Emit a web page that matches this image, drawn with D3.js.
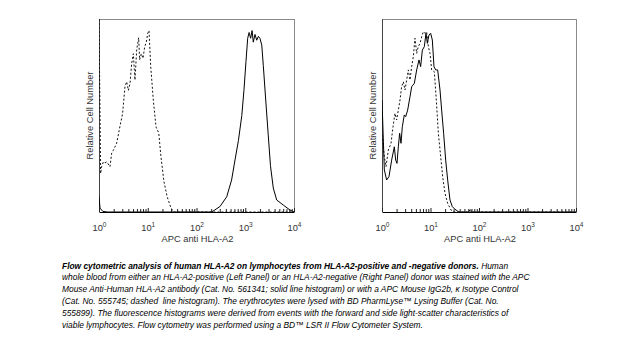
<!DOCTYPE html>
<html><head><meta charset="utf-8">
<script src="https://cdn.jsdelivr.net/npm/d3@7/dist/d3.min.js"></script>
<style>
html,body{margin:0;padding:0;background:#fff;}
svg{display:block;font-family:"Liberation Sans",Arial,sans-serif;}
</style></head>
<body><svg id="c" width="620" height="341"></svg>
<script>
// ---- data ----
const decades = [1, 10, 100, 1000, 10000];
const xTitle = "APC anti HLA-A2";
const yTitle = "Relative Cell Number";

// Left panel: HLA-A2-positive donor
const leftSolid = [[1,8],[1.05,2],[1.2,0.3],[1.5,0],[205,0],[302,2.8],[417,7.9],[525,16.6],[617,27],[724,37],[850,50],[940,63],[1035,78],[1122,90],[1200,93],[1290,90],[1380,94],[1462,88],[1585,92],[1720,89],[1860,91],[2000,90],[2180,86.5],[2345,76],[2630,58],[2960,40],[3290,24],[3760,12.4],[4420,6.2],[6030,3.6],[8290,1],[10000,0]];
const leftDashed = [[1,100],[1.08,20],[1.13,23.5],[1.23,26],[1.33,25.5],[1.44,26],[1.68,23.5],[1.82,30.5],[1.97,32],[2.31,35.7],[2.69,44.4],[3.05,51],[3.41,65],[3.70,67.5],[4.0,63],[4.33,66.6],[4.68,77],[5.06,82],[5.47,68.4],[5.93,84],[6.51,90.3],[6.82,78.9],[7.38,82],[7.99,79.6],[8.65,85.6],[9.35,88],[9.96,92.5],[10.6,94],[11.5,75.5],[13.0,58],[14.8,44],[16.8,41],[18.6,29],[21.4,16],[25.1,7.8],[29.5,2.6],[33.5,0],[10000,0]];

// Right panel: HLA-A2-negative donor
const rightSolid = [[1,58],[1.117,21.8],[1.247,16.6],[1.393,18.3],[1.581,26.9],[1.795,33.8],[1.914,26.9],[2.037,25.2],[2.173,33.8],[2.312,40.8],[2.466,35.6],[2.624,44.2],[2.884,50.3],[3.076,49.4],[3.381,52.8],[3.776,59.7],[4.093,64.9],[4.645,66.7],[5.188,73.6],[5.794,78.8],[6.266,75.3],[6.792,83.9],[7.464,85.7],[8.072,92.6],[8.61,87.4],[9.311,91.7],[10.07,92.6],[10.91,89.1],[11.80,75.3],[12.79,73.6],[14.06,73.6],[15.70,63.2],[16.98,52.8],[18.66,40.8],[20.56,26.9],[22.59,16.6],[25.23,6.2],[28.18,2.8],[31.99,1.4],[37.5,0.2],[43.95,0],[60.26,0],[66.22,1.2],[72.78,0],[10000,0]];
const rightDashed = [[1,40],[1.117,28.7],[1.208,23.5],[1.352,32.1],[1.535,35.6],[1.687,44.2],[1.854,51.1],[2.004,47.7],[2.173,52.8],[2.35,58],[2.541,64.9],[2.754,67.5],[2.979,63.2],[3.228,68.4],[3.491,73.6],[3.776,68.4],[4.093,75.3],[4.426,80.5],[4.786,90],[5.188,82.2],[5.61,85.7],[6.081,87.4],[6.577,90.8],[7.112,93.4],[7.709,92.6],[8.337,93.4],[9.016,85.7],[9.772,82.2],[10.57,73.6],[11.99,72.7],[13.18,58],[14.52,40.8],[16.22,28.7],[17.82,18.3],[19.91,9.7],[22.59,4.5],[26.49,1.0],[30.97,0],[10000,0]];

const captionBold = "Flow cytometric analysis of human HLA-A2 on lymphocytes from HLA-A2-positive and -negative donors.";
const captionLines = [
  " Human",
  "whole blood from either an HLA-A2-positive (Left Panel) or an HLA-A2-negative (Right Panel) donor was stained with the APC",
  "Mouse Anti-Human HLA-A2 antibody (Cat. No. 561341; solid line histogram) or with a APC Mouse IgG2b, \u03ba Isotype Control",
  "(Cat. No. 555745; dashed  line histogram). The erythrocytes were lysed with BD PharmLyse\u2122 Lysing Buffer (Cat. No.",
  "555899). The fluorescence histograms were derived from events with the forward and side light-scatter characteristics of",
  "viable lymphocytes. Flow cytometry was performed using a BD\u2122 LSR II Flow Cytometer System."
];

// ---- drawing ----
const svg = d3.select("#c");
const plotTop = 19, plotBottom = 212;
const panels = [
  {x0: 99, x1: 294, solid: leftSolid, dashed: leftDashed, id: "L"},
  {x0: 382, x1: 576, solid: rightSolid, dashed: rightDashed, id: "R"}
];

panels.forEach(p => {
  const x = d3.scaleLog().domain([1, 10000]).range([p.x0, p.x1]);
  const y = d3.scaleLinear().domain([0, 100]).range([plotBottom, plotTop]);
  const g = svg.append("g");

  svg.append("clipPath").attr("id", "clip" + p.id)
    .append("rect").attr("x", p.x0).attr("y", plotTop).attr("width", p.x1 - p.x0).attr("height", plotBottom - plotTop);

  // frame (top/right grey)
  g.append("line").attr("x1", p.x0).attr("x2", p.x1).attr("y1", plotTop + 0.5).attr("y2", plotTop + 0.5)
    .attr("stroke", "#8a8a8a").attr("stroke-width", 1);
  g.append("line").attr("x1", p.x1 + 0.5).attr("x2", p.x1 + 0.5).attr("y1", plotTop).attr("y2", plotBottom)
    .attr("stroke", "#8a8a8a").attr("stroke-width", 1);
  g.append("line").attr("x1", p.x0 + 0.5).attr("x2", p.x0 + 0.5).attr("y1", plotTop).attr("y2", plotBottom)
    .attr("stroke", "#444").attr("stroke-width", 1);

  const line = d3.line().x(d => x(d[0])).y(d => y(d[1]));
  const cg = g.append("g").attr("clip-path", "url(#clip" + p.id + ")");
  cg.append("path").datum(p.dashed).attr("d", line).attr("fill", "none")
    .attr("stroke", "#111").attr("stroke-width", 1).attr("stroke-dasharray", "2,2");
  cg.append("path").datum(p.solid).attr("d", line).attr("fill", "none")
    .attr("stroke", "#000").attr("stroke-width", 1);

  // bottom axis: minor ticks inward
  const minor = [];
  for (let i = 0; i < 4; i++) for (let m = 2; m <= 9; m++) minor.push(decades[i] * m);
  const axMinor = g.append("g").attr("transform", `translate(0,${plotBottom})`)
    .call(d3.axisBottom(x).tickValues(minor).tickSize(-3).tickFormat(""));
  axMinor.select(".domain").remove();
  axMinor.selectAll("line").attr("stroke", "#222");
  const axMajor = g.append("g").attr("transform", `translate(0,${plotBottom})`)
    .call(d3.axisBottom(x).tickValues(decades).tickSize(-4).tickSizeOuter(0).tickPadding(10)
      .tickFormat(d => "10"));
  axMajor.select(".domain").attr("stroke", "#000").attr("stroke-width", 1.2);
  axMajor.selectAll("line").attr("stroke", "#222");
  axMajor.selectAll("text")
    .attr("font-size", 9.3).attr("fill", "#333").attr("font-family", "Liberation Sans, Arial, sans-serif")
    .attr("dy", null).attr("y", 19)
    .each(function(d) {
      const t = d3.select(this);
      t.text("10");
      t.append("tspan").attr("font-size", 6.5).attr("dy", -4).text(String(Math.round(Math.log10(d))));
    });

  // titles
  g.append("text").attr("x", (p.x0 + p.x1) / 2 + 1).attr("y", 241.5)
    .attr("text-anchor", "middle").attr("font-size", 9.3).attr("fill", "#333").text(xTitle);
  g.append("text").attr("transform", `translate(${p.x0 - 6},${(plotTop + plotBottom) / 2}) rotate(-90)`)
    .attr("text-anchor", "middle").attr("font-size", 9.3).attr("fill", "#333").text(yTitle);
});

// caption
const cap = svg.append("g").attr("font-style", "italic").attr("fill", "#000");
const probe = cap.append("text").attr("font-size", 10).text(captionLines[1]);
const w10 = probe.node().getComputedTextLength();
probe.remove();
const fs = 10 * 468 / w10;
const lineH = 11.9, cx = 62, cy0 = 268.5;
const t1 = cap.append("text").attr("x", cx).attr("y", cy0).attr("font-size", fs);
t1.append("tspan").attr("font-weight", "bold").text(captionBold);
t1.append("tspan").style("white-space", "pre").text(captionLines[0]);
for (let i = 1; i < captionLines.length; i++) {
  cap.append("text").attr("x", cx).attr("y", cy0 + i * lineH).attr("font-size", fs)
    .style("white-space", "pre").text(captionLines[i]);
}
</script></body></html>
